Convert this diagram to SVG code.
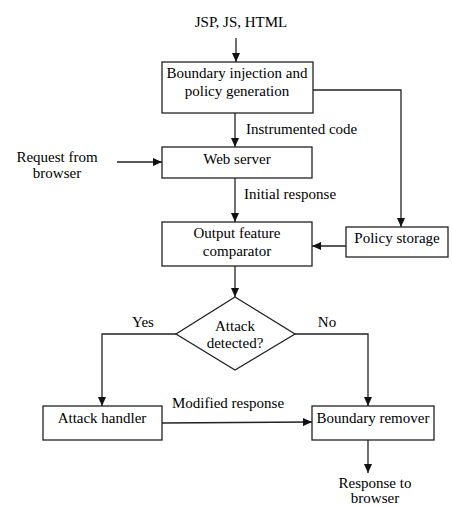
<svg xmlns="http://www.w3.org/2000/svg" width="452" height="506" viewBox="0 0 452 506" font-family="'Liberation Serif', 'Times New Roman', 'DejaVu Serif', serif" font-size="15">
<style>
text{font-family:'Liberation Serif','Times New Roman','DejaVu Serif',serif;font-size:15px;fill:#000}
.c{text-anchor:middle}
.box{fill:#fff;stroke:#222;stroke-width:1.3}
.ln{fill:none;stroke:#222;stroke-width:1.3}
</style>
<defs>
<marker id="ah" markerWidth="9" markerHeight="8" refX="9" refY="4" orient="auto" markerUnits="userSpaceOnUse">
<path d="M0,0 L9,4 L0,8 Z" fill="#111"/>
</marker>
</defs>
<rect width="452" height="506" fill="#fff"/>
<g id="connectors">
<line class="ln" x1="236" y1="38" x2="236" y2="62" marker-end="url(#ah)"/>
<line class="ln" x1="235" y1="113" x2="235" y2="147" marker-end="url(#ah)"/>
<polyline class="ln" points="313,90 401,90 401,227" marker-end="url(#ah)"/>
<line class="ln" x1="117" y1="162" x2="162" y2="162" marker-end="url(#ah)"/>
<line class="ln" x1="235" y1="178" x2="235" y2="222" marker-end="url(#ah)"/>
<line class="ln" x1="346" y1="246" x2="312" y2="246" marker-end="url(#ah)"/>
<line class="ln" x1="235" y1="266" x2="235" y2="297" marker-end="url(#ah)"/>
<polyline class="ln" points="176,334 102,334 102,406" marker-end="url(#ah)"/>
<polyline class="ln" points="295,334 368,334 368,406" marker-end="url(#ah)"/>
<line class="ln" x1="162" y1="423" x2="312" y2="422" marker-end="url(#ah)"/>
<line class="ln" x1="368" y1="440" x2="368" y2="473" marker-end="url(#ah)"/>
<text x="246" y="134">Instrumented code</text>
<text x="244" y="199">Initial response</text>
<text class="c" x="143" y="327">Yes</text>
<text class="c" x="327" y="327">No</text>
<text x="172" y="408">Modified response</text>
</g>
<g id="input"><text class="c" x="241" y="27">JSP, JS, HTML</text></g>
<g id="request"><text class="c" x="57" y="162">Request from</text><text class="c" x="57" y="178">browser</text></g>
<g id="boundary-injection">
<rect class="box" x="162" y="62" width="151" height="51"/>
<text class="c" x="237" y="78">Boundary injection and</text>
<text class="c" x="237" y="96">policy generation</text>
</g>
<g id="web-server">
<rect class="box" x="162" y="147" width="150" height="31"/>
<text class="c" x="237" y="164">Web server</text>
</g>
<g id="comparator">
<rect class="box" x="162" y="222" width="150" height="44"/>
<text class="c" x="237" y="238">Output feature</text>
<text class="c" x="237" y="256">comparator</text>
</g>
<g id="policy-storage">
<rect class="box" x="346" y="227" width="102" height="30"/>
<text class="c" x="397" y="243">Policy storage</text>
</g>
<g id="decision">
<polygon class="box" points="235,297 295,334 235,370 176,334"/>
<text class="c" x="235" y="331">Attack</text>
<text class="c" x="235" y="348">detected?</text>
</g>
<g id="attack-handler">
<rect class="box" x="43" y="406" width="119" height="34"/>
<text class="c" x="102" y="423">Attack handler</text>
</g>
<g id="boundary-remover">
<rect class="box" x="312" y="406" width="122" height="34"/>
<text class="c" x="373" y="423">Boundary remover</text>
</g>
<g id="output"><text class="c" x="375" y="488">Response to</text><text class="c" x="375" y="503">browser</text></g>
</svg>
